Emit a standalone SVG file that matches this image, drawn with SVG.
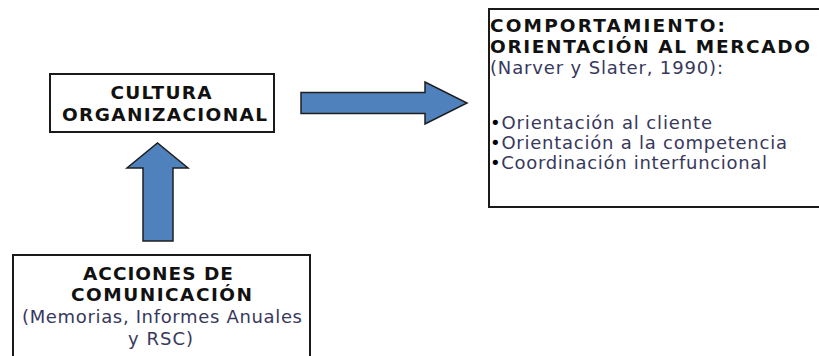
<svg xmlns="http://www.w3.org/2000/svg" width="819" height="356" viewBox="0 0 819 356">
  <style>
    .box { fill: #ffffff; stroke: #1a1a1a; stroke-width: 2; }
    .arrow { fill: #4f81bd; stroke: #1f1f1f; stroke-width: 1.5; stroke-linejoin: miter; }
    .title { font-family: "DejaVu Sans", Verdana, sans-serif; font-weight: bold; font-size: 18.5px; fill: #111111; }
    .body { font-family: "DejaVu Sans", Verdana, sans-serif; font-size: 18px; fill: #38385c; }
    .dot { fill: #000000; }
  </style>
  <rect width="819" height="356" fill="#ffffff"/>

  <g id="connectors">
    <!-- horizontal block arrow: culture -> behaviour -->
    <polygon class="arrow" points="301,92.5 425,92.5 425,82 467,103 425,124 425,113.5 301,113.5"/>
    <!-- vertical block arrow: communication -> culture -->
    <polygon class="arrow" points="143,241 143,168 127,168 157.5,143 188,168 173,168 173,241"/>
  </g>

  <g id="cultura">
    <rect class="box" x="50" y="74" width="224" height="58"/>
    <text class="title" x="161" y="99" text-anchor="middle" textLength="101">CULTURA</text>
    <text class="title" x="164.5" y="121" text-anchor="middle" textLength="205">ORGANIZACIONAL</text>
  </g>

  <g id="comportamiento">
    <rect class="box" x="489" y="9" width="340" height="198"/>
    <text class="title" x="490" y="32" textLength="235">COMPORTAMIENTO:</text>
    <text class="title" x="490" y="53" textLength="320">ORIENTACIÓN AL MERCADO</text>
    <text class="body" x="490" y="74" textLength="233">(Narver y Slater, 1990):</text>
    <text class="body" x="490" y="129" textLength="222"><tspan class="dot">•</tspan>Orientación al cliente</text>
    <text class="body" x="490" y="149" textLength="297"><tspan class="dot">•</tspan>Orientación a la competencia</text>
    <text class="body" x="490" y="169" textLength="277"><tspan class="dot">•</tspan>Coordinación interfuncional</text>
  </g>

  <g id="acciones">
    <rect class="box" x="13" y="255" width="297" height="120"/>
    <text class="title" x="158" y="280" text-anchor="middle" textLength="150">ACCIONES DE</text>
    <text class="title" x="161.5" y="301" text-anchor="middle" textLength="181">COMUNICACIÓN</text>
    <text class="body" x="162" y="323" text-anchor="middle" textLength="280">(Memorias, Informes Anuales</text>
    <text class="body" x="160.5" y="345" text-anchor="middle" textLength="65">y RSC)</text>
  </g>
</svg>
